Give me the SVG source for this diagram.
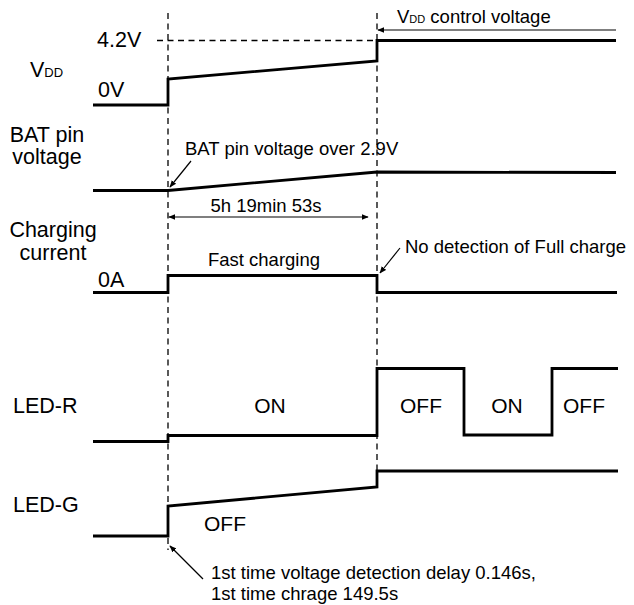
<svg xmlns="http://www.w3.org/2000/svg" width="634" height="605" viewBox="0 0 634 605">
<defs>
<marker id="ah" viewBox="0 0 10 10" refX="9" refY="5" markerWidth="7" markerHeight="7" orient="auto-start-reverse" markerUnits="userSpaceOnUse"><path d="M0,1 L10,5 L0,9 Z" fill="#000"/></marker>
<style>
text{font-family:"Liberation Sans",Arial,sans-serif;fill:#000}
.lbl{font-size:21.5px}
.ann{font-size:18.5px}
.st{font-size:21px}
.tr{fill:none;stroke:#000;stroke-width:2.8;stroke-linejoin:miter}
.dash{fill:none;stroke:#000;stroke-width:1.3;stroke-dasharray:6 4.5}
.thin{fill:none;stroke:#000;stroke-width:1.2}
</style>
</defs>
<rect width="634" height="605" fill="#fff"/>
<g id="guides">
<line class="dash" x1="168" y1="13" x2="168" y2="550"/>
<line class="dash" x1="377" y1="13" x2="377" y2="478"/>
<line class="dash" x1="157" y1="40.5" x2="377" y2="40.5"/>
</g>
<g id="labels">
<text class="lbl" x="30" y="77">V<tspan font-size="13">DD</tspan></text>
<text class="lbl" x="47" y="142" text-anchor="middle">BAT pin</text>
<text class="lbl" x="47" y="164" text-anchor="middle">voltage</text>
<text class="lbl" x="53" y="237" text-anchor="middle">Charging</text>
<text class="lbl" x="53" y="260" text-anchor="middle">current</text>
<text class="lbl" x="13" y="413">LED-R</text>
<text class="lbl" x="13" y="512">LED-G</text>
<text class="lbl" x="97" y="47">4.2V</text>
<text class="lbl" x="98" y="97">0V</text>
<text class="lbl" x="98" y="287">0A</text>
</g>
<g id="vdd">
<polyline class="tr" points="93,105 168,105 168,79 377,61 377,40.5 616,40.5"/>
</g>
<g id="bat">
<polyline class="tr" points="93,190.5 168,190.5 377,172 616,172.5"/>
</g>
<g id="charging">
<polyline class="tr" points="93,292.5 168,292.5 168,275.5 377,275.5 377,292.5 617,292.5"/>
<text class="ann" x="264" y="266" text-anchor="middle">Fast charging</text>
</g>
<g id="led-r">
<polyline class="tr" points="93,441.5 168,441.5 168,435.5 377,435.5 377,368.5 464,368.5 464,435 552,435 552,368.5 618,368.5"/>
<text class="st" x="270" y="413" text-anchor="middle">ON</text>
<text class="st" x="421" y="413" text-anchor="middle">OFF</text>
<text class="st" x="507" y="413" text-anchor="middle">ON</text>
<text class="st" x="584" y="413" text-anchor="middle">OFF</text>
</g>
<g id="led-g">
<polyline class="tr" points="93,536 168,536 168,506 377,487 377,471 618,471"/>
<text class="st" x="204" y="531">OFF</text>
</g>
<g id="connectors">
<line class="thin" x1="616" y1="30" x2="378" y2="30" marker-end="url(#ah)"/>
<line class="thin" x1="191" y1="161" x2="170" y2="187" marker-end="url(#ah)"/>
<line class="thin" x1="169" y1="217" x2="368" y2="217" marker-start="url(#ah)" marker-end="url(#ah)"/>
<line class="thin" x1="400" y1="248" x2="380" y2="273" marker-end="url(#ah)"/>
<line class="thin" x1="203" y1="579" x2="170" y2="546" marker-end="url(#ah)"/>
</g>
<g id="annotations">
<text class="ann" x="397" y="23">V<tspan font-size="11">DD</tspan> control voltage</text>
<text class="ann" x="185" y="155">BAT pin voltage over 2.9V</text>
<text class="ann" x="266" y="212" text-anchor="middle">5h 19min 53s</text>
<text class="ann" x="405" y="253">No detection of Full charge</text>
<text class="ann" x="211" y="579">1st time voltage detection delay 0.146s,</text>
<text class="ann" x="211" y="600">1st time chrage 149.5s</text>
</g>
</svg>
